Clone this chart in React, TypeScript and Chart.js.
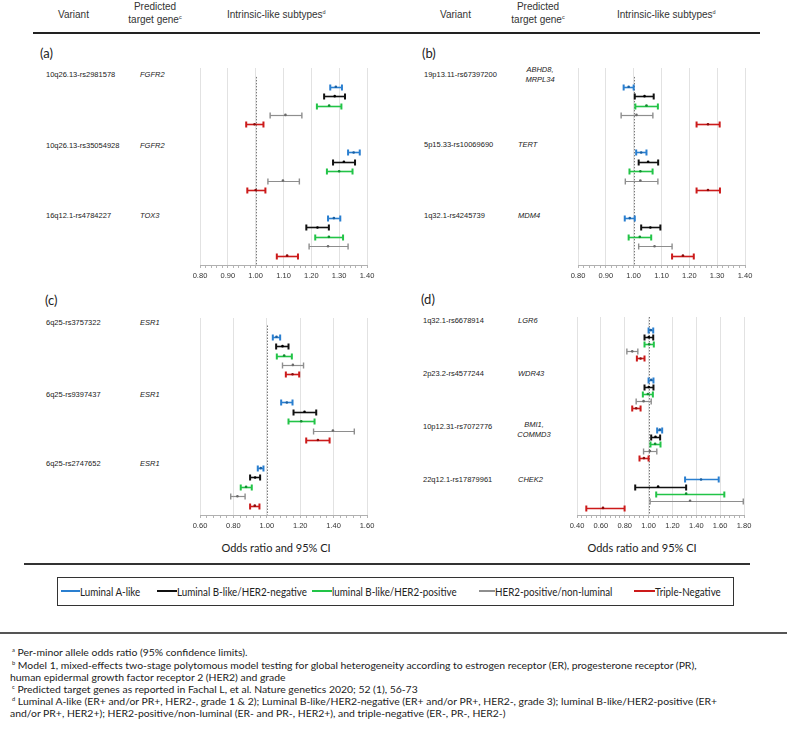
import React, { useEffect, useRef } from 'react';
import { Chart, registerables } from 'chart.js';
Chart.register(...registerables);

const subtypes = [
  'Luminal A-like',
  'Luminal B-like/HER2-negative',
  'luminal B-like/HER2-positive',
  'HER2-positive/non-luminal',
  'Triple-Negative',
];
const colors = ['#2a7fd0', '#111111', '#22c447', '#8e8e8e', '#cc1a1a'];
const dotColors = ['#1a5fa0', '#000000', '#138a30', '#6a6a6a', '#8a0c0c'];

// Panel (a)
const aVariants = ['10q26.13-rs2981578', '10q26.13-rs35054928', '16q12.1-rs4784227'];
const aGenes = ['FGFR2', 'FGFR2', 'TOX3'];
const aOR = [[1.288, 1.284, 1.264, 1.107, 0.996], [1.352, 1.317, 1.300, 1.098, 1.000], [1.281, 1.222, 1.263, 1.260, 1.113]];
const aLow = [[1.268, 1.246, 1.220, 1.052, 0.966], [1.332, 1.278, 1.256, 1.044, 0.970], [1.260, 1.182, 1.214, 1.192, 1.076]];
const aHigh = [[1.310, 1.321, 1.308, 1.166, 1.028], [1.374, 1.357, 1.348, 1.157, 1.035], [1.304, 1.263, 1.314, 1.332, 1.152]];
const aTicks = [0.8, 0.9, 1.0, 1.1, 1.2, 1.3, 1.4];

// Panel (b)
const bVariants = ['19p13.11-rs67397200', '5p15.33-rs10069690', '1q32.1-rs4245739'];
const bGenes = ['ABHD8,\nMRPL34', 'TERT', 'MDM4'];
const bOR = [[0.982, 1.039, 1.046, 1.010, 1.267], [1.027, 1.052, 1.024, 1.024, 1.267], [0.986, 1.060, 1.022, 1.075, 1.177]];
const bLow = [[0.964, 1.004, 1.006, 0.955, 1.226], [1.009, 1.018, 0.985, 0.970, 1.226], [0.968, 1.027, 0.982, 1.018, 1.138]];
const bHigh = [[1.000, 1.072, 1.087, 1.069, 1.309], [1.046, 1.088, 1.068, 1.087, 1.310], [1.004, 1.096, 1.063, 1.138, 1.216]];
const bTicks = [0.8, 0.9, 1.0, 1.1, 1.2, 1.3, 1.4];

// Panel (c)
const cVariants = ['6q25-rs3757322', '6q25-rs9397437', '6q25-rs2747652'];
const cGenes = ['ESR1', 'ESR1', 'ESR1'];
const cOR = [[1.058, 1.094, 1.104, 1.156, 1.154], [1.120, 1.226, 1.206, 1.396, 1.306], [0.964, 0.930, 0.876, 0.824, 0.928]];
const cLow = [[1.036, 1.056, 1.060, 1.094, 1.114], [1.086, 1.160, 1.130, 1.280, 1.236], [0.946, 0.900, 0.844, 0.784, 0.900]];
const cHigh = [[1.080, 1.130, 1.150, 1.220, 1.194], [1.154, 1.296, 1.286, 1.524, 1.376], [0.980, 0.960, 0.910, 0.870, 0.956]];
const cTicks = [0.6, 0.8, 1.0, 1.2, 1.4, 1.6];

// Panel (d)
const dVariants = ['1q32.1-rs6678914', '2p23.2-rs4577244', '10p12.31-rs7072776', '22q12.1-rs17879961'];
const dGenes = ['LGR6', 'WDR43', 'BMI1,\nCOMMD3', 'CHEK2'];
const dOR = [[1.019, 1.002, 1.005, 0.863, 0.933], [1.022, 1.002, 0.994, 0.958, 0.896], [1.094, 1.058, 1.055, 1.011, 0.961], [1.440, 1.080, 1.315, 1.348, 0.618]];
const dLow = [[1.000, 0.966, 0.966, 0.818, 0.902], [1.000, 0.966, 0.952, 0.896, 0.863], [1.072, 1.022, 1.016, 0.958, 0.924], [1.306, 0.888, 1.064, 1.013, 0.478]];
const dHigh = [[1.039, 1.039, 1.044, 0.910, 0.966], [1.041, 1.041, 1.036, 1.022, 0.933], [1.114, 1.097, 1.100, 1.069, 1.000], [1.588, 1.315, 1.635, 1.794, 0.799]];
const dTicks = [0.4, 0.6, 0.8, 1.0, 1.2, 1.4, 1.6, 1.8];

const ARIAL = '"Liberation Sans", Arial, Helvetica, sans-serif';
const CAL = 'Lato, "Open Sans", sans-serif';
const PAD = 20;
const AXIS_H = 22;

const forestPlugin = {
  id: 'forest',
  beforeDatasetsDraw(chart: any) {
    const { ctx, scales } = chart;
    const x = scales.x;
    const y = scales.y;
    const o = chart.options.plugins.forest || {};
    const rx = Math.round(x.getPixelForValue(1.0)) + 0.5;
    ctx.save();
    ctx.strokeStyle = '#7a7a7a';
    ctx.lineWidth = 1;
    ctx.setLineDash([1.5, 1.5]);
    ctx.beginPath();
    ctx.moveTo(rx, y.getPixelForValue(o.dotStart));
    ctx.lineTo(rx, chart.chartArea.bottom);
    ctx.stroke();
    ctx.restore();
    chart.data.datasets.forEach((ds: any) => {
      ctx.save();
      ctx.strokeStyle = ds.borderColor;
      ds.data.forEach((p: any, i: number) => {
        const py = Math.round(y.getPixelForValue(p.y)) + 0.5;
        const x1 = x.getPixelForValue(ds.lows[i]);
        const x2 = x.getPixelForValue(ds.highs[i]);
        ctx.lineWidth = ds.barLineWidth;
        ctx.beginPath();
        ctx.moveTo(x1, py);
        ctx.lineTo(x2, py);
        ctx.stroke();
        ctx.lineWidth = ds.capWidth;
        ctx.beginPath();
        ctx.moveTo(x1, py - 3);
        ctx.lineTo(x1, py + 3);
        ctx.moveTo(x2, py - 3);
        ctx.lineTo(x2, py + 3);
        ctx.stroke();
      });
      ctx.restore();
    });
  },
};

type ForestProps = {
  left: number; top: number; plotW: number; plotH: number;
  ticks: number[]; minor: number; yMin: number; yMax: number;
  or: number[][]; low: number[][]; high: number[][]; dotStart: number;
};

function Forest(p: ForestProps) {
  const ref = useRef<HTMLCanvasElement>(null);
  useEffect(() => {
    if (!ref.current) return;
    const xMin = p.ticks[0];
    const xMax = p.ticks[p.ticks.length - 1];
    const isMajor = (v: number) => p.ticks.some((t) => Math.abs(t - v) < 1e-6);
    const nMinor = Math.round((xMax - xMin) / p.minor);
    const allTicks: number[] = [];
    for (let k = 0; k <= nMinor; k++) allTicks.push(Math.round((xMin + k * p.minor) * 1000) / 1000);
    const datasets = subtypes.map((name, j) => ({
      label: name,
      data: p.or.map((row, i) => ({ x: row[j], y: i * 7 + j + 1 })),
      lows: p.low.map((r) => r[j]),
      highs: p.high.map((r) => r[j]),
      borderColor: colors[j],
      backgroundColor: dotColors[j],
      pointRadius: 1.3,
      pointBorderWidth: 0,
      pointBackgroundColor: dotColors[j],
      barLineWidth: j === 3 ? 1.2 : 1.6,
      capWidth: j === 3 ? 1.4 : 2,
      showLine: false,
    }));
    const chart = new Chart(ref.current, {
      type: 'scatter',
      data: { datasets } as any,
      plugins: [forestPlugin],
      options: {
        animation: false,
        responsive: false,
        events: [],
        layout: { padding: { left: PAD, right: PAD, top: 0, bottom: 0 } },
        plugins: {
          legend: { display: false },
          tooltip: { enabled: false },
          forest: { dotStart: p.dotStart },
        } as any,
        scales: {
          x: {
            type: 'linear',
            min: xMin,
            max: xMax,
            afterBuildTicks: (s: any) => {
              s.ticks = allTicks.map((v) => ({ value: v }));
            },
            afterFit: (s: any) => {
              s.height = AXIS_H;
            },
            ticks: {
              autoSkip: false,
              maxRotation: 0,
              minRotation: 0,
              padding: 3,
              color: '#333',
              font: { family: ARIAL, size: 7.5 },
              callback: (v: any) => (isMajor(Number(v)) ? Number(v).toFixed(2) : ''),
            },
            grid: {
              color: (c: any) => (c.tick && isMajor(c.tick.value) ? '#e2e2e2' : 'rgba(0,0,0,0)'),
              tickColor: '#b5b5b5',
              tickLength: 3,
              lineWidth: 1,
            },
            border: { display: true, color: '#b0b0b0', width: 1 },
          },
          y: {
            type: 'linear',
            reverse: true,
            min: p.yMin,
            max: p.yMax,
            display: false,
          },
        },
      } as any,
    });
    return () => chart.destroy();
  }, []);
  const w = p.plotW + 2 * PAD;
  const h = p.plotH + AXIS_H;
  return (
    <canvas
      ref={ref}
      width={w}
      height={h}
      style={{ position: 'absolute', left: p.left - PAD, top: p.top, width: w, height: h }}
    />
  );
}

const T = ({ x, y, children, center, style, sx }: any) => (
  <div
    style={{
      position: 'absolute',
      left: x,
      top: y,
      transform: (center ? 'translate(-50%,-50%)' : 'translateY(-50%)') + (sx ? ` scaleX(${sx})` : ''),
      transformOrigin: 'left center',
      whiteSpace: 'pre',
      lineHeight: 1,
      textAlign: center ? 'center' : 'left',
      ...style,
    }}
  >
    {children}
  </div>
);

const Sup = ({ children }: any) => (
  <span style={{ fontSize: '0.55em', position: 'relative', top: '-0.7em' }}>{children}</span>
);

const labelStyle = { fontFamily: ARIAL, fontSize: 7.5, color: '#222' };
const geneStyle = { fontFamily: ARIAL, fontSize: 7.5, color: '#222', fontStyle: 'italic' };
const headStyle = { fontFamily: ARIAL, fontSize: 10, color: '#333' };

function Labels({ vx, gx, variants, genes, vys, gys }: any) {
  return (
    <>
      {variants.map((v: string, i: number) => (
        <T key={'v' + i} x={vx} y={vys[i]} style={labelStyle}>{v}</T>
      ))}
      {genes.map((g: string, i: number) =>
        g.includes('\n') ? (
          <T key={'g' + i} x={gx[1]} y={gys[i]} center style={{ ...geneStyle, lineHeight: '9.5px' }}>{g}</T>
        ) : (
          <T key={'g' + i} x={gx[0]} y={gys[i]} style={geneStyle}>{g}</T>
        )
      )}
    </>
  );
}

const footStyle = { fontFamily: CAL, fontSize: 10.4, color: '#222' };

export default function App() {
  return (
    <div style={{ position: 'absolute', left: 0, top: 0, width: 787, height: 731, background: '#fff', overflow: 'hidden' }}>
      {/* headers */}
      <T x={58} y={15} style={headStyle}>Variant</T>
      <T x={155} y={7} center style={headStyle}>Predicted</T>
      <T x={155} y={20} center style={headStyle}>target gene<Sup>c</Sup></T>
      <T x={227} y={15} style={headStyle}>Intrinsic-like subtypes<Sup>d</Sup></T>
      <T x={440} y={15} style={headStyle}>Variant</T>
      <T x={538} y={7} center style={headStyle}>Predicted</T>
      <T x={538} y={20} center style={headStyle}>target gene<Sup>c</Sup></T>
      <T x={617} y={15} style={headStyle}>Intrinsic-like subtypes<Sup>d</Sup></T>
      <div style={{ position: 'absolute', left: 33, top: 32, width: 727, height: 2, background: '#222' }} />

      {/* panel labels */}
      <T x={40} y={53} style={{ fontFamily: CAL, fontSize: 13, color: '#222' }}>(a)</T>
      <T x={422} y={53} style={{ fontFamily: CAL, fontSize: 13, color: '#222' }}>(b)</T>
      <T x={45} y={300} style={{ fontFamily: CAL, fontSize: 13, color: '#222' }}>(c)</T>
      <T x={421} y={299} style={{ fontFamily: CAL, fontSize: 13, color: '#222' }}>(d)</T>

      <Labels vx={46} gx={[140, 155]} variants={aVariants} genes={aGenes} vys={[75, 145.7, 215.7]} gys={[75, 145.7, 215.7]} />
      <Labels vx={424} gx={[518, 540]} variants={bVariants} genes={bGenes} vys={[75, 145, 215.7]} gys={[74, 145, 215.7]} />
      <Labels vx={46} gx={[140, 155]} variants={cVariants} genes={cGenes} vys={[322.7, 395, 464.3]} gys={[322.7, 395, 464.3]} />
      <Labels vx={423} gx={[518, 534]} variants={dVariants} genes={dGenes} vys={[320.7, 374, 426.7, 480]} gys={[320.7, 374, 429, 480]} />

      <Forest left={200} top={64} plotW={167} plotH={201} ticks={aTicks} minor={0.02} yMin={-1} yMax={20} or={aOR} low={aLow} high={aHigh} dotStart={-0.05} />
      <Forest left={578} top={64} plotW={167} plotH={201} ticks={bTicks} minor={0.02} yMin={-1} yMax={20} or={bOR} low={bLow} high={bHigh} dotStart={-0.05} />
      <Forest left={200} top={314} plotW={167} plotH={201} ticks={cTicks} minor={0.04} yMin={-1} yMax={20} or={cOR} low={cLow} high={cHigh} dotStart={-0.2} />
      <Forest left={577} top={313} plotW={167} plotH={202} ticks={dTicks} minor={0.04} yMin={-0.83} yMax={27} or={dOR} low={dLow} high={dHigh} dotStart={-0.83} />

      <T x={276} y={547} center style={{ fontFamily: CAL, fontSize: 11, color: '#222' }}>Odds ratio and 95% CI</T>
      <T x={642} y={547} center style={{ fontFamily: CAL, fontSize: 11, color: '#222' }}>Odds ratio and 95% CI</T>

      <div style={{ position: 'absolute', left: 24, top: 563, width: 726, height: 2, background: '#333' }} />

      {/* legend */}
      <div style={{ position: 'absolute', left: 57, top: 577, width: 675, height: 27, border: '1.5px solid #333' }} />
      {[61, 157, 312, 479, 634].map((lx, j) => {
        const lw = [19, 20, 20, 16, 21][j];
        return (
          <React.Fragment key={j}>
            <div style={{ position: 'absolute', left: lx, top: 590, width: lw, height: 2, background: colors[j] }} />
            <T x={lx + lw} y={591} sx={0.89} style={{ fontFamily: CAL, fontSize: 11, color: '#222' }}>{subtypes[j]}</T>
          </React.Fragment>
        );
      })}

      <div style={{ position: 'absolute', left: 0, top: 632, width: 787, height: 2, background: '#555' }} />

      {/* footnotes */}
      <T x={12} y={652} style={footStyle}><Sup>a</Sup> Per-minor allele odds ratio (95% confidence limits).</T>
      <T x={12} y={665} style={footStyle}><Sup>b</Sup> Model 1, mixed-effects two-stage polytomous model testing for global heterogeneity according to estrogen receptor (ER), progesterone receptor (PR),</T>
      <T x={10} y={677} style={footStyle}>human epidermal growth factor receptor 2 (HER2) and grade</T>
      <T x={12} y={689} style={footStyle}><Sup>c</Sup> Predicted target genes as reported in Fachal L, et al. Nature genetics 2020; 52 (1), 56-73</T>
      <T x={12} y={701} style={footStyle}><Sup>d</Sup> Luminal A-like (ER+ and/or PR+, HER2-, grade 1 &amp; 2); Luminal B-like/HER2-negative (ER+ and/or PR+, HER2-, grade 3); luminal B-like/HER2-positive (ER+</T>
      <T x={10} y={713} style={footStyle}>and/or PR+, HER2+); HER2-positive/non-luminal (ER- and PR-, HER2+), and triple-negative (ER-, PR-, HER2-)</T>
    </div>
  );
}
